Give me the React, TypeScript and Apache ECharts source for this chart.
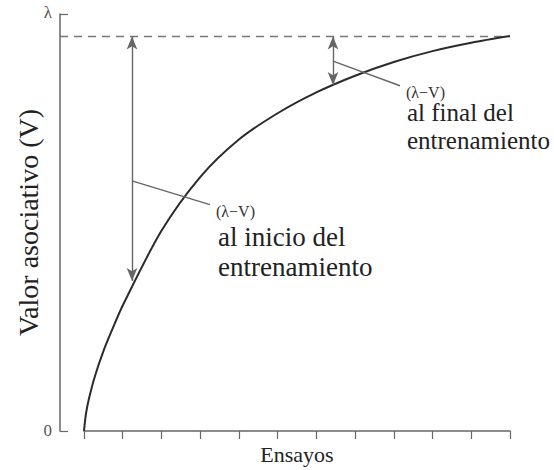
import React, { useEffect, useRef } from "react";
import * as echarts from "echarts";

// Trials (x) and associative value V (fraction of the top tick λ)
const curveX = [0, 0.052, 0.129, 0.284, 0.516, 0.723, 1, 2, 3, 4, 5, 6, 7, 8, 9, 10, 11];
const curveV = [0, 0.042, 0.078, 0.132, 0.195, 0.242, 0.301, 0.48, 0.609, 0.699, 0.762, 0.812, 0.852, 0.885, 0.911, 0.931, 0.947];
const asymptote = 0.946; // level of λ
const xRange = [0, 11];
const yTickLabels = ["0", "λ"];

// arrows: [x, from V, to V]
const earlyArrow = [1.24, 0.946, 0.36];
const lateArrow = [6.43, 0.946, 0.83];
// leader lines [x1, y1, x2, y2]
const earlyLeader = [1.24, 0.6, 3.25, 0.543];
const lateLeader = [6.43, 0.887, 8.16, 0.828];

const FONT = "Liberation Serif";
const Y_OFFSET = 24;
const W = 554;

export default function App() {
  const ref = useRef<HTMLDivElement>(null);
  useEffect(() => {
    if (!ref.current) return;
    const chart = echarts.init(ref.current, undefined, { renderer: "svg" });
    const axisColor = "#666";
    chart.setOption({
      animation: false,
      grid: { left: 84, right: 44, top: 14, bottom: 31 },
      xAxis: {
        type: "value",
        min: xRange[0],
        max: xRange[1],
        interval: 1,
        axisLine: { show: true, onZero: false, lineStyle: { color: axisColor, width: 1.5 } },
        axisTick: { show: true, inside: false, length: 8, lineStyle: { color: axisColor, width: 1.2 } },
        axisLabel: { show: false },
        splitLine: { show: false },
        name: "Ensayos",
        nameLocation: "middle",
        nameGap: 12,
        nameTextStyle: { fontFamily: FONT, fontSize: 22, color: "#222", verticalAlign: "top" },
      },
      yAxis: {
        type: "value",
        min: 0,
        max: 1,
        interval: 1,
        offset: Y_OFFSET,
        axisLine: { show: true, onZero: false, lineStyle: { color: axisColor, width: 1.5 } },
        axisTick: { show: true, inside: true, length: 8, lineStyle: { color: axisColor, width: 1.2 } },
        axisLabel: { show: false },
        splitLine: { show: false },
        name: "Valor asociativo (V)",
        nameLocation: "middle",
        nameGap: 18,
        nameRotate: 90,
        nameTextStyle: { fontFamily: FONT, fontSize: 28, color: "#222" },
      },
      series: [
        {
          type: "line",
          data: curveX.map((x, i) => [x, curveV[i]]),
          smooth: 0.3,
          symbol: "none",
          silent: true,
          lineStyle: { color: "#2b2b2b", width: 2 },
          markLine: {
            silent: true,
            animation: false,
            label: { show: false },
            emphasis: { disabled: true },
            lineStyle: { color: "#666", width: 1.4, type: "solid" },
            symbol: ["arrow", "arrow"],
            symbolSize: [8, 13],
            data: [
              [
                { coord: [earlyArrow[0], earlyArrow[1]] },
                { coord: [earlyArrow[0], earlyArrow[2]] },
              ],
              [
                { coord: [lateArrow[0], lateArrow[1]] },
                { coord: [lateArrow[0], lateArrow[2]] },
              ],
              [
                { coord: [earlyLeader[0], earlyLeader[1]], symbol: "none" },
                { coord: [earlyLeader[2], earlyLeader[3]], symbol: "none" },
              ],
              [
                { coord: [lateLeader[0], lateLeader[1]], symbol: "none" },
                { coord: [lateLeader[2], lateLeader[3]], symbol: "none" },
              ],
            ],
          },
        },
      ],
    });

    const p0 = chart.convertToPixel({ gridIndex: 0 }, [xRange[0], 0]) as number[];
    const p1 = chart.convertToPixel({ gridIndex: 0 }, [xRange[0], 1]) as number[];
    const pa = chart.convertToPixel({ gridIndex: 0 }, [xRange[1], asymptote]) as number[];
    const axisX = p0[0] - Y_OFFSET;

    const txt = (x: number, y: number, text: string, size: number, fill: string) => ({
      type: "text",
      x,
      y,
      silent: true,
      style: { text, fontSize: size, fontFamily: FONT, fill, align: "left", verticalAlign: "top" },
    });

    chart.setOption({
      graphic: [
        {
          type: "line",
          silent: true,
          shape: { x1: axisX, y1: pa[1], x2: pa[0], y2: pa[1] },
          style: { stroke: "#777", lineWidth: 1.3, lineDash: [8, 6] },
        },
        {
          type: "text",
          right: W - (axisX - 8),
          top: p0[1] - 9,
          silent: true,
          style: { text: yTickLabels[0], fontSize: 17, fontFamily: FONT, fill: "#555" },
        },
        {
          type: "text",
          right: W - (axisX - 8),
          top: p1[1] - 10,
          silent: true,
          style: { text: yTickLabels[1], fontSize: 17, fontFamily: FONT, fill: "#555" },
        },
        txt(216, 203, "(λ−V)", 16, "#333"),
        txt(218, 223, "al inicio del", 27, "#222"),
        txt(218, 253, "entrenamiento", 27, "#222"),
        txt(406, 84, "(λ−V)", 16, "#333"),
        txt(407, 100, "al final del", 25, "#222"),
        txt(407, 128, "entrenamiento", 25, "#222"),
      ],
    });
    return () => chart.dispose();
  }, []);
  return <div ref={ref} style={{ position: "absolute", left: 0, top: 0, width: 554, height: 470 }} />;
}
